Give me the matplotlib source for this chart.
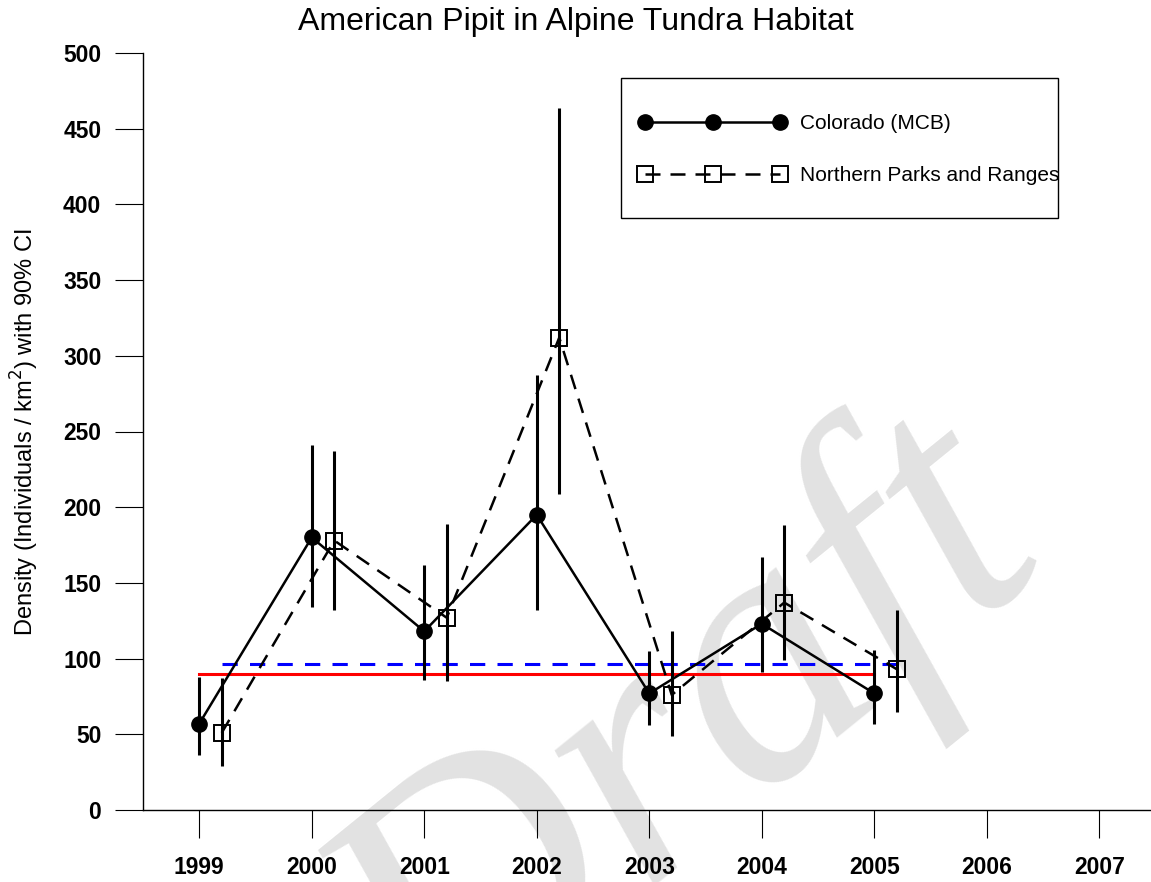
import matplotlib
matplotlib.use("Agg")
import matplotlib.pyplot as plt
from matplotlib.lines import Line2D
from matplotlib.patches import Rectangle
from matplotlib import font_manager as fm
import numpy as np

# ---- data ----
years = [1999, 2000, 2001, 2002, 2003, 2004, 2005]
xticks = [1999, 2000, 2001, 2002, 2003, 2004, 2005, 2006, 2007]
yticks = [0, 50, 100, 150, 200, 250, 300, 350, 400, 450, 500]

co_est = [57, 180, 118, 195, 77, 123, 77]
co_low = [36, 134, 86, 132, 56, 91, 57]
co_high = [88, 241, 162, 287, 105, 167, 106]

np_est = [51, 178, 127, 312, 76, 137, 93]
np_low = [29, 132, 85, 209, 49, 99, 65]
np_high = [87, 237, 189, 464, 118, 188, 132]

co_mean = 90
np_mean = 96.5
np_offset = 0.2

title = "American Pipit in Alpine Tundra Habitat"
ylabel = "Density (Individuals / km$^2$) with 90% CI"
labels = ["Colorado (MCB)", "Northern Parks and Ranges"]
watermark = "Draft"

# legend font: narrow if available
try:
    fm.findfont(fm.FontProperties(family="Liberation Sans Narrow"),
                fallback_to_default=False)
    leg_prop = {"family": "Liberation Sans Narrow", "size": 18.5}
except Exception:
    leg_prop = {"family": "Liberation Sans", "size": 15}
fs_px = leg_prop["size"] * 100 / 72.0

W, H = 1151, 882
fig = plt.figure(figsize=(W / 100, H / 100), dpi=100)
ax = fig.add_axes([143 / W, 1 - 810 / H, 1 - 143 / W, (810 - 53) / H])
ax.patch.set_visible(False)

# watermark (real text, behind the axes content)
fig.text(440 / W, -180 / H, watermark, fontsize=262, family="Liberation Serif",
         style="italic", color="#e2e2e2", rotation=39, rotation_mode="anchor",
         ha="left", va="baseline", zorder=-5)

xs_co = np.array(years, dtype=float)
xs_np = xs_co + np_offset

# horizontal means
ax.plot([xs_co[0], xs_co[-1]], [co_mean, co_mean], color="#ff0000", lw=2.2, zorder=2)
ax.plot([xs_np[0], xs_np[-1]], [np_mean, np_mean], color="#0000ff", lw=2.2,
        ls=(0, (5, 4)), zorder=2)

# error bars
ax.vlines(xs_co, co_low, co_high, color="black", lw=2.2, zorder=3)
ax.vlines(xs_np, np_low, np_high, color="black", lw=2.2, zorder=3)

# lines
ax.plot(xs_co, co_est, color="black", lw=1.8, marker="o", ms=11,
        mfc="black", mec="black", zorder=4)
ax.plot(xs_np, np_est, color="black", lw=1.8, ls=(0, (6, 4)), marker="s", ms=12,
        mfc="none", mec="black", mew=1.4, zorder=4)

ax.set_xlim(1998.5, 1998.5 + (W - 143) / 112.5)
ax.set_ylim(0, 500)
ax.set_xticks(xticks)
ax.set_yticks(yticks)
ax.set_xticklabels([str(t) for t in xticks], fontsize=16.5, fontweight="bold",
                   family="Liberation Sans")
ax.set_yticklabels([str(t) for t in yticks], fontsize=16.5, fontweight="bold",
                   family="Liberation Sans")
ax.tick_params(axis="both", direction="out", length=20, width=0.8)
ax.tick_params(axis="x", pad=13)
ax.tick_params(axis="y", pad=10)
for s in ["top", "right"]:
    ax.spines[s].set_visible(False)
for s in ["left", "bottom"]:
    ax.spines[s].set_linewidth(1.0)

fig.text(25 / W, 1 - 432 / H, ylabel, rotation=90, ha="center", va="center",
         fontsize=17, family="Liberation Sans")
fig.text(0.5, 1 - 22 / H, title, ha="center", va="center", fontsize=23,
         family="Liberation Sans")

# legend frame drawn separately
fig.add_artist(Rectangle((621 / W, 1 - 218 / H), (1058 - 621) / W, (218 - 78) / H,
                         transform=fig.transFigure, facecolor="white",
                         edgecolor="black", lw=1.0, zorder=5))
handles = [
    Line2D([], [], color="black", lw=1.8, marker="o", ms=11, mfc="black"),
    Line2D([], [], color="black", lw=1.8, ls=(0, (6, 4)), marker="s", ms=12,
           mfc="none", mew=1.4),
]
marker_span = 780 - 645
hl = marker_span / fs_px + 0.6
leg = fig.legend(handles, labels, loc="upper left",
                 bbox_to_anchor=((645 - 0.3 * fs_px) / W, 1 - 114 / H),
                 bbox_transform=fig.transFigure,
                 numpoints=3, handlelength=hl, frameon=False,
                 borderpad=0, labelspacing=1.6,
                 handletextpad=(800 - 780 - 0.3 * fs_px) / fs_px, borderaxespad=0,
                 prop=leg_prop)
leg.set_zorder(6)

fig.savefig("out.png", dpi=100)
